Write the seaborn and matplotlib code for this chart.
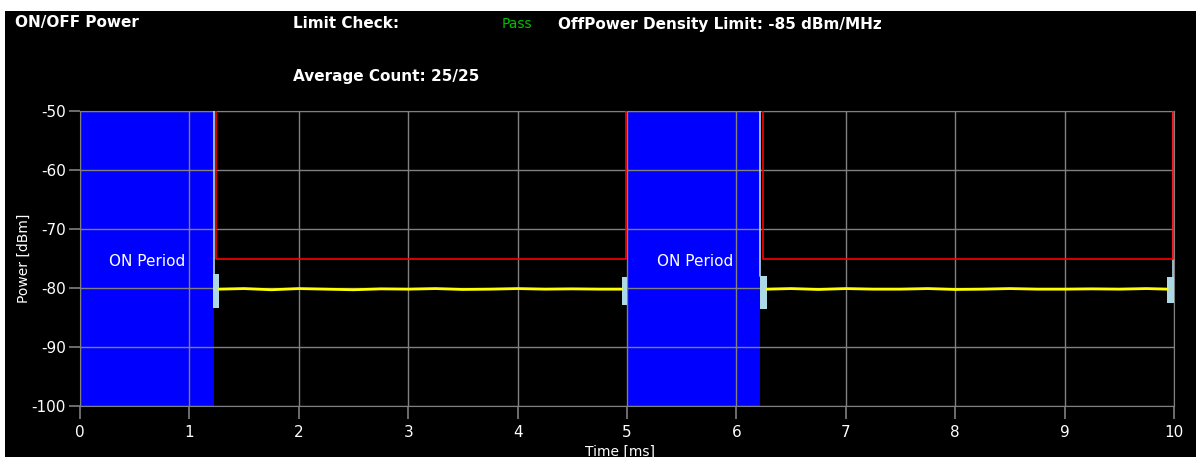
import numpy as np
import pandas as pd
import seaborn as sns
import matplotlib.pyplot as plt
from matplotlib.patches import Rectangle

# ON periods (ms)
on_start = [0.0, 5.0]
on_end = [1.225, 6.22]

# limit line, one list per segment
limit_seg = [1, 1, 1, 1, 2, 2, 2, 2]
limit_x = [1.24, 1.24, 4.99, 4.99, 6.24, 6.24, 9.99, 9.99]
limit_y = [-50, -75, -75, -50, -50, -75, -75, -50]

off_seg = [1] * 16 + [2] * 16
off_t = [1.27, 1.5, 1.75, 2.0, 2.25, 2.5, 2.75, 3.0, 3.25, 3.5, 3.75, 4.0, 4.25, 4.5, 4.75, 4.95,
         6.28, 6.5, 6.75, 7.0, 7.25, 7.5, 7.75, 8.0, 8.25, 8.5, 8.75, 9.0, 9.25, 9.5, 9.75, 9.94]
off_p = [-80.2, -80.1, -80.3, -80.1, -80.2, -80.3, -80.15, -80.2, -80.1, -80.25, -80.2, -80.1, -80.2, -80.15, -80.2, -80.2,
         -80.2, -80.1, -80.25, -80.1, -80.2, -80.2, -80.1, -80.25, -80.2, -80.1, -80.2, -80.2, -80.15, -80.2, -80.1, -80.2]

# transient edges (light blue) at each OFF boundary
edge_x0 = [1.22, 4.95, 6.215, 9.94]
edge_x1 = [1.27, 5.0, 6.28, 10.0]
edge_lo = [-83.4, -82.9, -83.5, -82.6]
edge_hi = [-77.7, -78.1, -77.9, -78.2]
# light blue trace running up from the edge to the top
rise_x = [1.225, 6.22, 9.995]
rise_lo = [-77.7, -77.9, -78.2]

limit_df = pd.DataFrame({"seg": limit_seg, "t": limit_x, "p": limit_y})
off_df = pd.DataFrame({"seg": off_seg, "t": off_t, "p": off_p})

sns.set_style("ticks", {"axes.facecolor": "black", "axes.edgecolor": "#808080",
                        "xtick.color": "#808080", "ytick.color": "#808080"})
plt.rcParams["font.family"] = ["DejaVu Sans"]
plt.rcParams["axes.unicode_minus"] = False

fig = plt.figure(figsize=(11.96, 4.57), dpi=100, facecolor="white")
fig.patches.append(Rectangle((5 / 1196, 0), 1, 1 - 11 / 457, transform=fig.transFigure,
                             facecolor="black", edgecolor="none", zorder=-10))
ax = fig.add_axes([80 / 1196, 1 - 406 / 457, 1094 / 1196, 295 / 457])
ax.set_facecolor("black")

for s, e in zip(on_start, on_end):
    ax.axvspan(s, e, color="#0000ff", lw=0, zorder=0)

for x0, x1, lo, hi in zip(edge_x0, edge_x1, edge_lo, edge_hi):
    ax.fill_between([x0, x1], [lo, lo], [hi, hi], color="#add8e6", lw=0, zorder=3)
for x, lo in zip(rise_x, rise_lo):
    ax.plot([x, x], [-50, lo], color="#add8e6", lw=1.2, zorder=3)

sns.lineplot(data=off_df, x="t", y="p", units="seg", estimator=None, sort=False,
             color="#ffff00", lw=2, ax=ax, zorder=4)
sns.lineplot(data=limit_df, x="t", y="p", units="seg", estimator=None, sort=False,
             color="#ff0000", lw=1.2, ax=ax, zorder=5)

ax.set_xlim(0, 10)
ax.set_ylim(-100, -50)
ax.set_xticks(range(0, 11))
ax.set_yticks(range(-100, -49, 10))
ax.grid(True, color="#808080", lw=1)
ax.set_axisbelow(False)
for sp in ax.spines.values():
    sp.set_color("#808080")
    sp.set_visible(True)
ax.tick_params(axis="x", color="#808080", labelcolor="white", labelsize=11, length=9,
               width=1.2, direction="out", bottom=True, pad=5)
ax.tick_params(axis="y", color="#808080", labelcolor="white", labelsize=11, length=8,
               width=1.2, direction="out", left=True, pad=2)
ax.set_xlabel("Time [ms]", color="white", fontsize=10)
ax.xaxis.set_label_coords((620 - 80) / 1094, -(452 - 406) / 295)
ax.xaxis.label.set_va("center")
ax.set_ylabel("Power [dBm]", color="white", fontsize=10)
ax.yaxis.set_label_coords(-(80 - 24) / 1094, (406 - 258) / 295)
ax.yaxis.label.set_va("center")

ax.text((147 - 80) / 1094 * 10, -75.5, "ON Period", color="white", fontsize=11,
        ha="center", va="center")
ax.text((695 - 80) / 1094 * 10, -75.5, "ON Period", color="white", fontsize=11,
        ha="center", va="center")

fig.text(15 / 1196, 1 - 23 / 457, "ON/OFF Power", color="white", fontsize=11,
         fontweight="bold", va="center")
fig.text(293 / 1196, 1 - 24 / 457, "Limit Check:", color="white", fontsize=11,
         fontweight="bold", va="center")
fig.text(502 / 1196, 1 - 24 / 457, "Pass", color="#00c000", fontsize=10, va="center")
fig.text(558 / 1196, 1 - 24 / 457, "OffPower Density Limit: -85 dBm/MHz", color="white",
         fontsize=11, fontweight="bold", va="center")
fig.text(293 / 1196, 1 - 77 / 457, "Average Count: 25/25", color="white", fontsize=11,
         fontweight="bold", va="center")

fig.savefig("out.png", dpi=100, facecolor="white")
